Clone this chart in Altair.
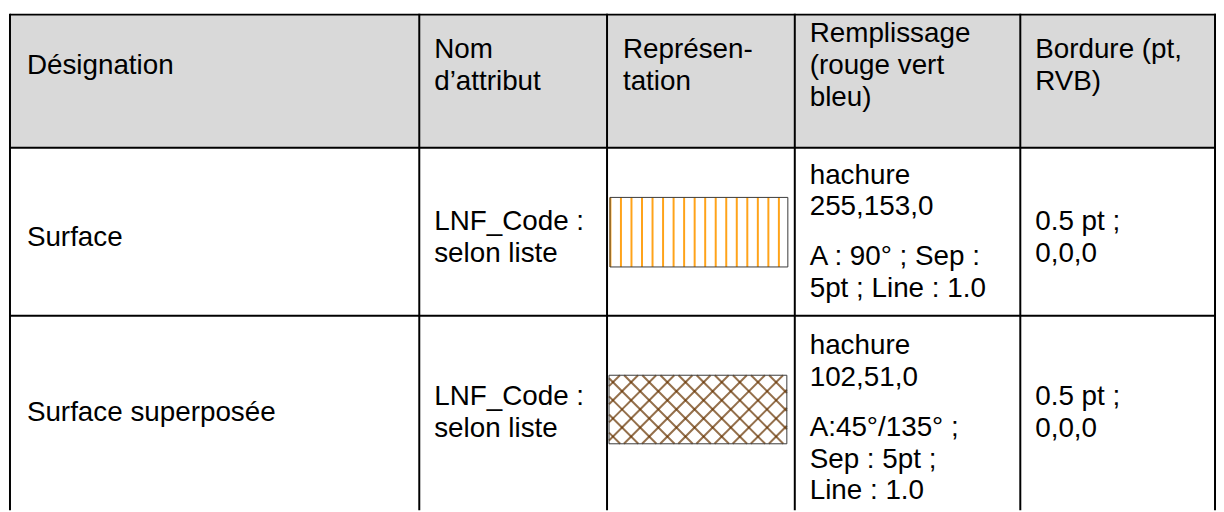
import math
import altair as alt
import pandas as pd

# ---------------- data (table content) ----------------
header_labels = [
    "Désignation",
    "Nom\nd’attribut",
    "Représen-\ntation",
    "Remplissage\n(rouge vert\nbleu)",
    "Bordure (pt,\nRVB)",
]
designations = ["Surface", "Surface superposée"]
attribute_names = ["LNF_Code :\nselon liste", "LNF_Code :\nselon liste"]
fill_kind = ["hachure", "hachure"]
fill_rgb = ["255,153,0", "102,51,0"]
hatch_specs = ["A : 90° ; Sep :\n5pt ; Line : 1.0", "A:45°/135° ;\nSep : 5pt ;\nLine : 1.0"]
hatch_angles = [[90], [45, 135]]
hatch_sep_pt = [5, 5]
hatch_line = [1.0, 1.0]
borders = ["0.5 pt ;\n0,0,0", "0.5 pt ;\n0,0,0"]

# ---------------- layout (page pixels) ----------------
PAGE_W, PAGE_H, MARGIN = 1224, 512, 8
COL_EDGES = [10, 422, 611, 800, 1027, 1223]
ROW_EDGES = [13, 147, 316, 530]
TEXT_X = [27, 437, 627, 815, 1042]
ROW_CENTER = [65, 238, 414]
FILL_FIRST_BASELINE = [183, 355]
PARA_GAP = 50
LINE_H = 32
FONT = "Liberation Sans"
FONT_SIZE = 28
SWATCHES = [(614, 793, 197, 267), (613, 792, 376, 445)]
SWATCH_SEP_PX = [10.6 / hatch_sep_pt[0], 12.9 / hatch_sep_pt[1]]  # px per pt
SWATCH_PHASE = [{90: 11.0}, {45: 7.78, 135: -2.12}]
HEADER_FILL = "#d9d9d9"
HATCH_OPACITY = [0.9, 0.7]

# ---------------- build tables ----------------
rects = pd.DataFrame([
    {"x": COL_EDGES[0], "x2": PAGE_W + 2, "y": ROW_EDGES[0], "y2": ROW_EDGES[1]}
])

lines = []
for yv in ROW_EDGES[:3]:
    lines.append({"x": COL_EDGES[0], "x2": PAGE_W + 2, "y": yv, "y2": yv})
for xv in COL_EDGES:
    lines.append({"x": xv, "x2": xv, "y": ROW_EDGES[0] - 1, "y2": PAGE_H + 2})
lines = pd.DataFrame(lines)


def centered_item(x, yc, txt):
    n = txt.count("\n") + 1
    return {"x": x, "y": yc - (n - 1) * LINE_H / 2.0, "t": txt}


centered = []
for i, lab in enumerate(header_labels):
    centered.append(centered_item(TEXT_X[i], ROW_CENTER[0], lab))
for r in range(len(designations)):
    centered.append(centered_item(TEXT_X[0], ROW_CENTER[r + 1], designations[r]))
    centered.append(centered_item(TEXT_X[1], ROW_CENTER[r + 1], attribute_names[r]))
    centered.append(centered_item(TEXT_X[4], ROW_CENTER[r + 1], borders[r]))
centered = pd.DataFrame(centered)

top_text = []
for r in range(len(designations)):
    first = fill_kind[r] + "\n" + fill_rgb[r]
    top_text.append({"x": TEXT_X[3], "y": FILL_FIRST_BASELINE[r], "t": first})
    top_text.append({"x": TEXT_X[3], "y": FILL_FIRST_BASELINE[r] + LINE_H + PARA_GAP, "t": hatch_specs[r]})
top_text = pd.DataFrame(top_text)

boxes = pd.DataFrame([{"x": s[0], "x2": s[1], "y": s[2], "y2": s[3]} for s in SWATCHES])


def clip_line(px, py, ux, uy, x0, x1, y0, y1):
    tmin, tmax = -1e9, 1e9
    for p, u, lo, hi in ((px, ux, x0, x1), (py, uy, y0, y1)):
        if abs(u) < 1e-12:
            if p < lo or p > hi:
                return None
        else:
            a, b = (lo - p) / u, (hi - p) / u
            tmin, tmax = max(tmin, min(a, b)), min(tmax, max(a, b))
    if tmax - tmin < 0.5:
        return None
    return (px + ux * tmin, py + uy * tmin, px + ux * tmax, py + uy * tmax)


hatch = []
for r, (x0, x1, y0, y1) in enumerate(SWATCHES):
    rgb = [int(v) for v in fill_rgb[r].split(",")]
    color = "#%02x%02x%02x" % tuple(rgb)
    sep = hatch_sep_pt[r] * SWATCH_SEP_PX[r]
    for ang in hatch_angles[r]:
        th = math.radians(ang)
        ux, uy = math.cos(th), -math.sin(th)
        nx, ny = math.sin(th), math.cos(th)
        phase = SWATCH_PHASE[r][ang]
        diag = math.hypot(x1 - x0, y1 - y0)
        k0 = int(-diag / sep) - 2
        for k in range(k0, int(diag / sep) + 3):
            d = phase + k * sep
            seg = clip_line(x0 + nx * d, y0 + ny * d, ux, uy, x0, x1, y0, y1)
            if seg:
                hatch.append({"x": seg[0], "y": seg[1], "x2": seg[2], "y2": seg[3],
                              "c": color, "w": 2.0 * hatch_line[r], "o": HATCH_OPACITY[r]})
hatch = pd.DataFrame(hatch)

# ---------------- scales ----------------
xs = alt.Scale(domain=[MARGIN, PAGE_W], range=[0, PAGE_W - MARGIN], zero=False, nice=False)
ys = alt.Scale(domain=[MARGIN, PAGE_H], range=[0, PAGE_H - MARGIN], zero=False, nice=False)


def X(f="x"):
    return alt.X(f"{f}:Q", scale=xs, axis=None)


def Y(f="y"):
    return alt.Y(f"{f}:Q", scale=ys, axis=None)


header_bg = alt.Chart(rects).mark_rect(fill=HEADER_FILL, clip=True).encode(
    x=X(), x2="x2:Q", y=Y(), y2="y2:Q")

box_bg = alt.Chart(boxes).mark_rect(fill="white").encode(x=X(), x2="x2:Q", y=Y(), y2="y2:Q")

hatch_layer = alt.Chart(hatch).mark_rule().encode(
    x=X(), x2="x2:Q", y=Y(), y2="y2:Q",
    color=alt.Color("c:N", scale=None),
    opacity=alt.Opacity("o:Q", scale=None),
    strokeWidth=alt.StrokeWidth("w:Q", scale=None),
)

box_border = alt.Chart(boxes).mark_rect(fill=None, stroke="#3a3a3a", strokeWidth=1).encode(
    x=X(), x2="x2:Q", y=Y(), y2="y2:Q")

grid = alt.Chart(lines).mark_rule(color="black", strokeWidth=2, clip=True).encode(
    x=X(), x2="x2:Q", y=Y(), y2="y2:Q")

text_c = alt.Chart(centered).mark_text(
    align="left", baseline="middle", font=FONT, fontSize=FONT_SIZE,
    lineBreak="\n", lineHeight=LINE_H, color="black").encode(
    x=X(), y=Y(), text="t:N")

text_t = alt.Chart(top_text).mark_text(
    align="left", baseline="alphabetic", font=FONT, fontSize=FONT_SIZE,
    lineBreak="\n", lineHeight=LINE_H, color="black").encode(
    x=X(), y=Y(), text="t:N")

chart = alt.layer(header_bg, box_bg, hatch_layer, box_border, grid, text_c, text_t).properties(
    width=PAGE_W - MARGIN, height=PAGE_H - MARGIN,
    autosize=alt.AutoSizeParams(type="none"),
    padding=0,
    background="white",
).configure_view(stroke=None)

chart.save("out.html", embed_options={"renderer": "svg", "actions": False})
